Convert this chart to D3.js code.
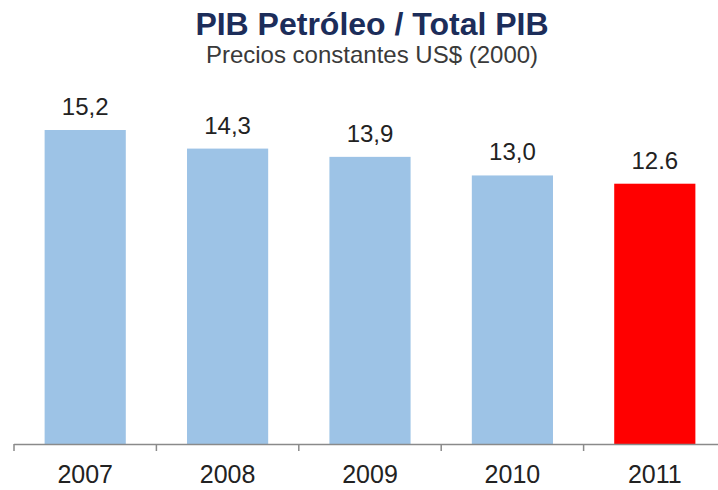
<!DOCTYPE html>
<html><head><meta charset="utf-8">
<script src="https://cdn.jsdelivr.net/npm/d3@7"></script>
<style>
html,body{margin:0;padding:0;background:#fff;}
svg{display:block;font-family:"Liberation Sans",Arial,sans-serif;}
</style></head>
<body>
<svg id="chart" width="718" height="490"></svg>
<script>
const categories = ["2007","2008","2009","2010","2011"];
const values = [15.2, 14.3, 13.9, 13.0, 12.6];
const valueLabels = ["15,2","14,3","13,9","13,0","12.6"];
const title = "PIB Petróleo / Total PIB";
const subtitle = "Precios constantes US$ (2000)";

const svg = d3.select("#chart");
const x = d3.scaleBand().domain(categories).range([14, 726]).paddingInner(0.43).paddingOuter(0.215);
const y = d3.scaleLinear().domain([0, 15.2]).range([444, 130]);

svg.append("text").attr("x", 372).attr("y", 35).attr("text-anchor","middle")
  .attr("font-size", 32).attr("font-weight","bold").attr("fill","#1c2d5a").text(title);
svg.append("text").attr("x", 372).attr("y", 63).attr("text-anchor","middle")
  .attr("font-size", 24).attr("fill","#3a3a3a").text(subtitle);

svg.selectAll("rect.bar").data(categories).join("rect").attr("class","bar")
  .attr("x", d => x(d)).attr("width", x.bandwidth())
  .attr("y", (d,i) => y(values[i])).attr("height", (d,i) => y(0) - y(values[i]))
  .attr("fill", (d,i) => i === categories.length-1 ? "#ff0000" : "#9dc3e6");

svg.selectAll("text.val").data(categories).join("text").attr("class","val")
  .attr("x", d => x(d) + x.bandwidth()/2).attr("y", (d,i) => y(values[i]) - 15)
  .attr("text-anchor","middle").attr("font-size", 24).attr("fill","#222")
  .text((d,i) => valueLabels[i]);

// axis
const step = x.step();
const edges = categories.map(c => x(c) - step*x.paddingInner()/2);
svg.append("line").attr("x1", 14).attr("x2", 718).attr("y1", 444.5).attr("y2", 444.5)
  .attr("stroke", "#8a8a8a").attr("stroke-width", 1.5);
svg.selectAll("line.tick").data(edges).join("line").attr("class","tick")
  .attr("x1", d => d).attr("x2", d => d).attr("y1", 444).attr("y2", 451)
  .attr("stroke", "#8a8a8a").attr("stroke-width", 1.5);
svg.selectAll("text.cat").data(categories).join("text").attr("class","cat")
  .attr("x", d => x(d) + x.bandwidth()/2).attr("y", 483)
  .attr("text-anchor","middle").attr("font-size", 25).attr("fill","#222").text(d => d);
</script>
</body></html>
